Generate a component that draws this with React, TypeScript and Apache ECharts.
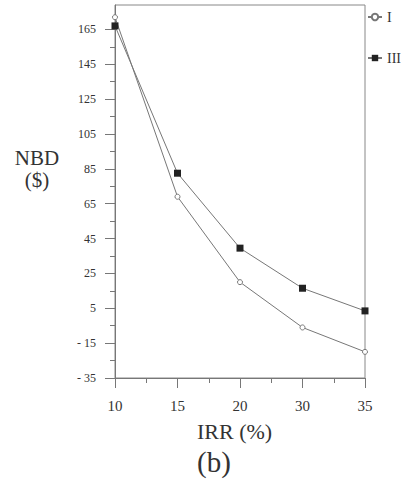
import React, { useEffect, useRef } from "react";
import * as echarts from "echarts";

const categories = ["10", "15", "20", "30", "35"];
const seriesI = [172, 69, 20, -6, -20];
const seriesIII = [167, 82.5, 39.5, 16.5, 3.5];
const yMajorTicks = [-35, -15, 5, 25, 45, 65, 85, 105, 125, 145, 165];
const yMinorTicks = [-25, -5, 15, 35, 55, 75, 95, 115, 135, 155];
const xMinorTicks = [0.5, 1.5, 2.5, 3.5];

const FONT = "Liberation Serif, Times New Roman, serif";
const GRID = { left: 115, right: 36, top: 5, bottom: 105 };

export default function App() {
  const ref = useRef<HTMLDivElement>(null);
  useEffect(() => {
    const chart = echarts.init(ref.current!, null, { renderer: "svg" });
    const txt = (text: string, left: number, top: number, size: number) => ({
      type: "text",
      left,
      top,
      style: { text, fontFamily: FONT, fontSize: size, fill: "#333" },
    });
    chart.setOption({
      animation: false,
      backgroundColor: "#fff",
      textStyle: { fontFamily: FONT },
      grid: { ...GRID, show: true, borderColor: "#888", borderWidth: 1, containLabel: false },
      legend: {
        orient: "vertical",
        left: 367,
        top: 10,
        padding: 0,
        itemGap: 27,
        itemWidth: 14,
        itemHeight: 8,
        textStyle: { fontFamily: FONT, fontSize: 14, color: "#333" },
        data: ["I", "III"],
      },
      xAxis: [
        {
          type: "category",
          data: categories,
          boundaryGap: false,
          axisLine: { onZero: false, lineStyle: { color: "#777" } },
          axisTick: { length: 10, lineStyle: { color: "#777" } },
          axisLabel: { margin: 20, fontFamily: FONT, fontSize: 15, color: "#333" },
          splitLine: { show: false },
        },
        {
          type: "value",
          position: "bottom",
          min: 0,
          max: 4,
          axisLine: { show: false, onZero: false },
          axisTick: { show: true, length: 5, customValues: xMinorTicks, lineStyle: { color: "#777" } },
          axisLabel: { show: false },
          splitLine: { show: false },
        },
      ],
      yAxis: [
        {
          type: "value",
          min: -35,
          max: 179,
          axisLine: { show: true, onZero: false, lineStyle: { color: "#777" } },
          axisTick: { show: true, length: 10, customValues: yMajorTicks, lineStyle: { color: "#777" } },
          axisLabel: {
            customValues: yMajorTicks,
            margin: 19,
            fontFamily: FONT,
            fontSize: 12,
            color: "#333",
            formatter: (v: number) => (v < 0 ? "- " + Math.abs(v) : String(v)),
          },
          splitLine: { show: false },
        },
        {
          type: "value",
          position: "left",
          min: -35,
          max: 179,
          axisLine: { show: false, onZero: false },
          axisTick: { show: true, length: 5, customValues: yMinorTicks, lineStyle: { color: "#777" } },
          axisLabel: { show: false },
          splitLine: { show: false },
        },
      ],
      graphic: [
        {
          type: "text",
          x: 37,
          y: 147,
          style: {
            text: "NBD\n($)",
            fontFamily: FONT,
            fontSize: 21,
            lineHeight: 22,
            align: "center",
            fill: "#333",
          },
        },
        txt("IRR (%)", 197, 420, 22),
        txt("(b)", 197, 447, 29),
      ],
      series: [
        {
          name: "I",
          type: "line",
          data: seriesI,
          symbol: "circle",
          symbolSize: 5,
          itemStyle: { color: "#fff", borderColor: "#777", borderWidth: 1 },
          lineStyle: { color: "#777", width: 1 },
        },
        {
          name: "III",
          type: "line",
          data: seriesIII,
          symbol: "rect",
          symbolSize: 7,
          itemStyle: { color: "#222", borderColor: "#222", borderWidth: 0 },
          lineStyle: { color: "#777", width: 1 },
        },
      ],
    });
    return () => chart.dispose();
  }, []);
  return <div ref={ref} style={{ width: 401, height: 483, position: "absolute", left: 0, top: 0 }} />;
}
